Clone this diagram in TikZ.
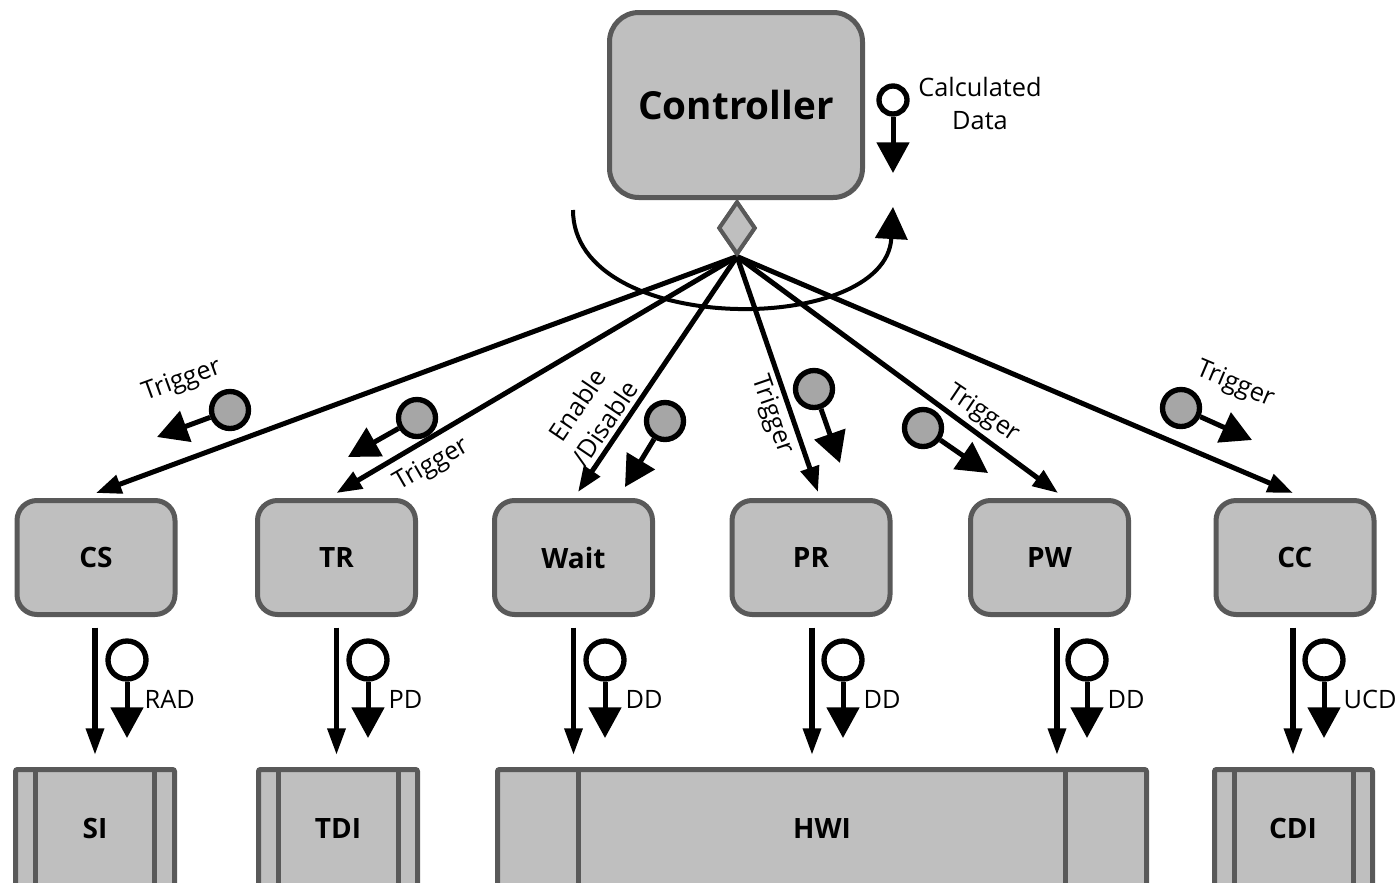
\documentclass[tikz,border=0pt]{standalone}
\usepackage{fontspec}
\setmainfont{Open Sans}
\usetikzlibrary{arrows.meta,shapes.geometric,calc}
\definecolor{boxfill}{HTML}{BFBFBF}
\definecolor{boxline}{HTML}{595959}
\definecolor{dotfill}{HTML}{A6A6A6}
\begin{document}
\begin{tikzpicture}[x=0.75pt,y=-0.75pt,
  module/.style={draw=boxline, fill=boxfill, line width=3.75pt, rounded corners=15pt,
    minimum width=118.5pt, minimum height=85.5pt, inner sep=0pt,
    font=\fontsize{21}{26}\selectfont\bfseries},
  ctrl/.style={draw=boxline, fill=boxfill, line width=3.75pt, rounded corners=22pt,
    minimum width=189.75pt, minimum height=138.75pt, inner sep=0pt,
    font=\fontsize{29}{34}\selectfont\bfseries},
  ifbox/.style={draw=boxline, fill=boxfill, line width=3.75pt, rounded corners=1.5pt,
    minimum height=100pt, inner sep=0pt, anchor=north},
  iflabel/.style={font=\fontsize{21}{26}\selectfont\bfseries},
  sep/.style={draw=boxline, line width=3.75pt},
  fan/.style={draw, line width=3.75pt, -{Triangle[length=19pt,width=14pt]}},
  longarrow/.style={draw, line width=4pt, -{Triangle[length=20pt,width=13pt]},
    shorten <=8pt, shorten >=9pt},
  lolarrow/.style={draw, line width=3.75pt, -{Triangle[length=23pt,width=24pt]}},
  hollowdot/.style={circle, draw, line width=4pt, fill=white, minimum size=28.5pt, inner sep=0pt},
  hollowsmall/.style={circle, draw, line width=4pt, fill=white, minimum size=21pt, inner sep=0pt},
  graydot/.style={circle, draw, line width=4pt, fill=dotfill, minimum size=27.75pt, inner sep=0pt},
  small/.style={font=\fontsize{19}{24.75}\selectfont},
]
\useasboundingbox (0,0) rectangle (1398,882);

% Controller and diamond
\node[ctrl] (ctrl) at (736,105) {Controller};
\coordinate (cs) at (573,210);
\coordinate (ce) at (893,207);
\draw[line width=3pt, -{Triangle[length=24pt,width=24pt]}] (cs) .. controls (573,337) and (886,337) .. (ce);

% Calculated data
\node[hollowsmall] (cd) at (893,100) {};
\coordinate (cdt) at (893,173);
\draw[lolarrow] (cd.south) -- (cdt);
\node[small, align=center] (cdl) at (980,103) {Calculated\\Data};

% modules
\node[module] (CS) at (96,557.5) {CS};
\node[module] (TR) at (336.5,557.5) {TR};
\node[module] (Wait) at (573.5,557.5) {Wait};
\node[module] (PR) at (811,557.5) {PR};
\node[module] (PW) at (1049.5,557.5) {PW};
\node[module] (CC) at (1295,557.5) {CC};

% fan
\node[diamond, draw=boxline, fill=boxfill, line width=3pt, minimum width=27.75pt,
  minimum height=39.75pt, inner sep=0pt] (dm) at (737,228) {};
\draw[fan] (dm.south) -- ([yshift=3.75pt]CS.north);
\draw[fan] (dm.south) -- ([yshift=3.75pt]TR.north);
\draw[fan] (dm.south) -- ([xshift=3.4pt,yshift=4.5pt]Wait.north);
\draw[fan] (dm.south) -- ([xshift=5.25pt,yshift=4.5pt]PR.north);
\draw[fan] (dm.south) -- ([xshift=6.4pt,yshift=3.75pt]PW.north);
\draw[fan] (dm.south) -- ([xshift=-1.5pt,yshift=3.75pt]CC.north);
\node[diamond, draw=boxline, fill=boxfill, line width=3pt, minimum width=27.75pt,
  minimum height=39.75pt, inner sep=0pt] at (dm) {};

% trigger labels
\node[small, rotate=20] (t1) at (182,381) {Trigger};
\node[small, rotate=30] (t2) at (432,465) {Trigger};
\node[small, rotate=56, align=center] (t3) at (591,414) {Enable\\/Disable};
\node[small, rotate=-71] (t4) at (772,415) {Trigger};
\node[small, rotate=-34] (t5) at (983,414) {Trigger};
\node[small, rotate=-23] (t6) at (1235,385) {Trigger};

% gray lollipops
\node[graydot] (g1) at (230,410) {};
\coordinate (e1) at (157,437);
\draw[lolarrow] (g1) -- (e1);
\node[graydot] (g2) at (417,418) {};
\coordinate (e2) at (348,457);
\draw[lolarrow] (g2) -- (e2);
\node[graydot] (g3) at (665,421) {};
\coordinate (e3) at (625,487);
\draw[lolarrow] (g3) -- (e3);
\node[graydot] (g4) at (814,389) {};
\coordinate (e4) at (840,463);
\draw[lolarrow] (g4) -- (e4);
\node[graydot] (g5) at (923,428) {};
\coordinate (e5) at (988,473);
\draw[lolarrow] (g5) -- (e5);
\node[graydot] (g6) at (1181,408) {};
\coordinate (e6) at (1252,440);
\draw[lolarrow] (g6) -- (e6);

% interface boxes
\begin{scope}
\clip (0,0) rectangle (1398,882);
\node[ifbox, minimum width=119.25pt] (SI) at (95,767) {};
\draw[sep] (35,769) -- (35,900);
\draw[sep] (154,769) -- (154,900);
\node[ifbox, minimum width=119.25pt] (TDI) at (338,767) {};
\draw[sep] (278,769) -- (278,900);
\draw[sep] (398,769) -- (398,900);
\node[ifbox, minimum width=486.75pt] (HWI) at (822,767) {};
\draw[sep] (578,769) -- (578,900);
\draw[sep] (1065,769) -- (1065,900);
\node[ifbox, minimum width=118.5pt] (CDI) at (1293.5,767) {};
\draw[sep] (1234,769) -- (1234,900);
\draw[sep] (1353,769) -- (1353,900);
\end{scope}
\node[iflabel] (SIl) at (95,828) {SI};
\node[iflabel] (TDIl) at (338,828) {TDI};
\node[iflabel] (HWIl) at (822,828) {HWI};
\node[iflabel] (CDIl) at (1293,828) {CDI};

% vertical arrows
\draw[longarrow] ([xshift=-0.75pt]CS.south) -- ([xshift=-0.75pt]CS.south |- SI.north);
\draw[longarrow] (TR.south) -- (TR.south |- TDI.north);
\draw[longarrow] (Wait.south) -- (Wait.south |- HWI.north);
\draw[longarrow] ([xshift=0.75pt]PR.south) -- ([xshift=0.75pt]PR.south |- HWI.north);
\draw[longarrow] ([xshift=5.6pt]PW.south) -- ([xshift=5.6pt]PW.south |- HWI.north);
\draw[longarrow] ([xshift=-1.5pt]CC.south) -- ([xshift=-1.5pt]CC.south |- CDI.north);

% data lollipops
\node[hollowdot] (d1) at (127,660) {};
\coordinate (f1) at (127,738);
\draw[lolarrow] (d1.south) -- (f1);
\node[small, anchor=west] (l1) at (140,699) {RAD};
\node[hollowdot] (d2) at (368,660) {};
\coordinate (f2) at (368,738);
\draw[lolarrow] (d2.south) -- (f2);
\node[small, anchor=west] (l2) at (384,699) {PD};
\node[hollowdot] (d3) at (605,660) {};
\coordinate (f3) at (605,738);
\draw[lolarrow] (d3.south) -- (f3);
\node[small, anchor=west] (l3) at (621,699) {DD};
\node[hollowdot] (d4) at (843,660) {};
\coordinate (f4) at (843,738);
\draw[lolarrow] (d4.south) -- (f4);
\node[small, anchor=west] (l4) at (859,699) {DD};
\node[hollowdot] (d5) at (1087,660) {};
\coordinate (f5) at (1087,738);
\draw[lolarrow] (d5.south) -- (f5);
\node[small, anchor=west] (l5) at (1103,699) {DD};
\node[hollowdot] (d6) at (1324,660) {};
\coordinate (f6) at (1324,738);
\draw[lolarrow] (d6.south) -- (f6);
\node[small, anchor=west] (l6) at (1339,699) {UCD};
\end{tikzpicture}
\end{document}
